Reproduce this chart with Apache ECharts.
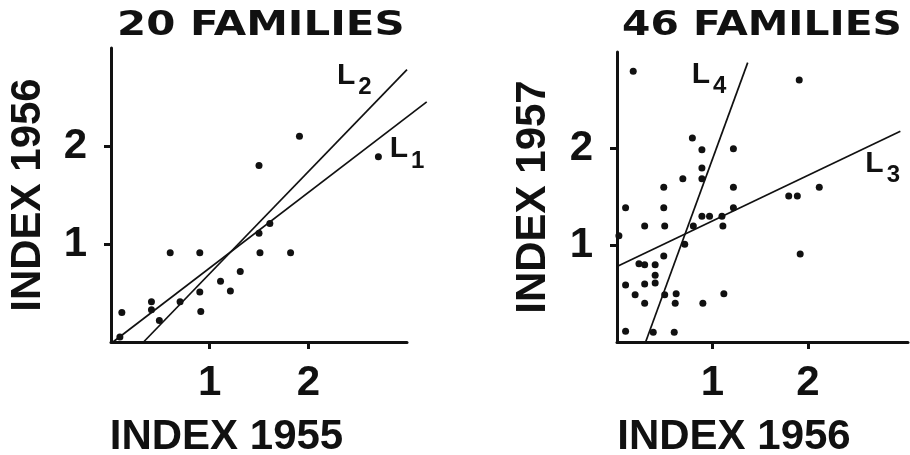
<!DOCTYPE html>
<html>
<head>
<meta charset="utf-8">
<script src="https://cdn.jsdelivr.net/npm/echarts@6/dist/echarts.min.js"></script>
<style>
  html, body { margin: 0; padding: 0; background: #fff; }
  #chart { width: 910px; height: 455px; }
</style>
</head>
<body>
<div id="chart"></div>
<script>
// panel titles and axis names
var titles = ['20 FAMILIES', '46 FAMILIES'];
var xNames = ['INDEX 1955', 'INDEX 1956'];
var yNames = ['INDEX 1956', 'INDEX 1957'];
var tickValues = [1, 2];

// left panel: 20 families (index 1955, index 1956)
var families20 = [
    [0.09, 0.05], [0.11, 0.30], [0.41, 0.41], [0.41, 0.33], [0.49, 0.22],
    [0.70, 0.41], [0.60, 0.91], [0.90, 0.91], [0.90, 0.51], [0.91, 0.31],
    [1.11, 0.62], [1.21, 0.52], [1.31, 0.72], [1.50, 1.80], [1.50, 1.11],
    [1.61, 1.21], [1.51, 0.91], [1.82, 0.91], [1.91, 2.10], [2.71, 1.89]
];
var lineL1 = [[0.02, 0], [3.2, 2.45]];
var lineL2 = [[0.33, 0], [3.0, 2.78]];

// right panel: 46 families (index 1956, index 1957)
var families46 = [
    [0.17, 2.80], [1.91, 2.71], [0.79, 2.11], [0.89, 1.99], [1.22, 2.00],
    [0.89, 1.80], [0.69, 1.69], [0.89, 1.69], [0.49, 1.60], [1.22, 1.60],
    [0.09, 1.39], [0.49, 1.39], [1.22, 1.39], [0.89, 1.30], [0.97, 1.30],
    [1.10, 1.30], [0.29, 1.20], [0.50, 1.20], [0.80, 1.20], [1.11, 1.20],
    [0.02, 1.10], [0.71, 1.01], [0.49, 0.89], [0.23, 0.81], [0.29, 0.80],
    [0.40, 0.80], [0.40, 0.69], [0.09, 0.59], [0.29, 0.60], [0.40, 0.61],
    [0.19, 0.49], [0.50, 0.49], [0.62, 0.50], [1.12, 0.50], [0.29, 0.40],
    [0.61, 0.40], [0.90, 0.40], [0.09, 0.11], [0.38, 0.10], [0.60, 0.10],
    [1.80, 1.51], [1.89, 1.51], [2.12, 1.60], [1.92, 0.91]
];
var lineL3 = [[0, 0.78], [2.97, 2.18]];
var lineL4 = [[0.30, 0], [1.37, 2.89]];

var ink = '#111';
var font = 'Liberation Sans';

function makeXAxis(idx, max, name, shift) {
    return {
        type: 'value', gridIndex: idx, min: 0, max: max,
        name: name, nameLocation: 'middle', nameGap: 74,
        nameTextStyle: { color: ink, fontFamily: font, fontWeight: 'bold', fontSize: 42, padding: [0, shift, 0, 0] },
        axisLine: { lineStyle: { color: ink, width: 3 } },
        axisTick: { customValues: tickValues, length: 7, lineStyle: { color: ink, width: 3 } },
        axisLabel: { customValues: tickValues, color: ink, fontFamily: font, fontWeight: 'bold', fontSize: 42, margin: 20 },
        splitLine: { show: false }
    };
}

function makeYAxis(idx, name, gap) {
    return {
        type: 'value', gridIndex: idx, min: 0, max: 3,
        name: name, nameLocation: 'middle', nameGap: gap,
        nameTextStyle: { color: ink, fontFamily: font, fontWeight: 'bold', fontSize: 42 },
        axisLine: { lineStyle: { color: ink, width: 3 } },
        axisTick: { customValues: tickValues, length: 7, lineStyle: { color: ink, width: 3 } },
        axisLabel: { customValues: tickValues, color: ink, fontFamily: font, fontWeight: 'bold', fontSize: 42, margin: 24 },
        splitLine: { show: false }
    };
}

function fitLine(idx, data, sub, offset) {
    return {
        type: 'line', xAxisIndex: idx, yAxisIndex: idx,
        data: data, symbol: 'none', clip: false, silent: true,
        lineStyle: { color: ink, width: 1.7 },
        endLabel: {
            show: true, offset: offset,
            formatter: '{a|L}{b|' + sub + '}',
            rich: {
                a: { fontFamily: font, fontWeight: 'bold', fontSize: 30, lineHeight: 32, color: ink },
                b: { fontFamily: font, fontWeight: 'bold', fontSize: 24, lineHeight: 24, padding: [24, 0, 0, 3], color: ink }
            }
        }
    };
}

function dots(idx, data) {
    return {
        type: 'scatter', xAxisIndex: idx, yAxisIndex: idx,
        data: data, symbolSize: 7, itemStyle: { color: ink, opacity: 1 }
    };
}

var chart = echarts.init(document.getElementById('chart'));
chart.setOption({
    animation: false,
    backgroundColor: '#fff',
    graphic: [
        { type: 'text', x: 117, y: 26, scaleX: 1.27,
          style: { text: titles[0], font: 'bold 33px "DejaVu Sans"', fill: ink, align: 'left', verticalAlign: 'middle' } },
        { type: 'text', x: 622, y: 26, scaleX: 1.236,
          style: { text: titles[1], font: 'bold 33px "DejaVu Sans"', fill: ink, align: 'left', verticalAlign: 'middle' } }
    ],
    grid: [
        { left: 111, top: 48, width: 296, height: 294, outerBoundsMode: 'none' },
        { left: 617, top: 52, width: 291, height: 290, outerBoundsMode: 'none' },
        // same scale as the left panel, wider so L1 can run past the axis end
        { left: 111, top: 48, width: 296 * 3.2 / 3, height: 294, outerBoundsMode: 'none' }
    ],
    xAxis: [
        makeXAxis(0, 3, xNames[0], 65),
        makeXAxis(1, 3.05, xNames[1], 57),
        { type: 'value', gridIndex: 2, min: 0, max: 3.2, show: false }
    ],
    yAxis: [
        makeYAxis(0, yNames[0], 62),
        makeYAxis(1, yNames[1], 63),
        { type: 'value', gridIndex: 2, min: 0, max: 3, show: false }
    ],
    series: [
        dots(0, families20),
        fitLine(2, lineL1, '1', [-45, 47]),
        fitLine(0, lineL2, '2', [-78, 6]),
        dots(1, families46),
        fitLine(1, lineL3, '3', [-43, 32]),
        fitLine(1, lineL4, '4', [-64, 12])
    ]
});
</script>
</body>
</html>
